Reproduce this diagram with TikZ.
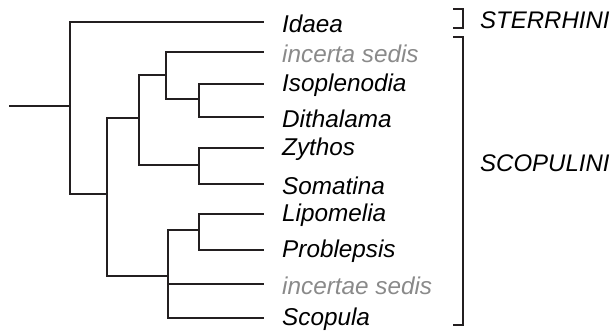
\documentclass[tikz,border=0pt]{standalone}
\usepackage{fontspec}
\setmainfont{Liberation Sans}
\definecolor{ink}{HTML}{231F20}
\definecolor{dim}{HTML}{8A8A8A}
\begin{document}
\begin{tikzpicture}[x=1pt,y=-1pt,
  branch/.style={draw=ink,line width=2.6pt,line cap=rect},
  brack/.style={draw=ink,line width=2.3pt},
  taxon/.style={anchor=west,inner sep=0pt,font=\fontsize{24.3}{28}\selectfont\itshape,text=black},
  taxdim/.style={taxon,text=dim},
  tribe/.style={anchor=west,inner sep=0pt,font=\fontsize{24}{28}\selectfont\itshape,text=black}]
\useasboundingbox (0,0) rectangle (615,333);
% internal nodes
\coordinate (stem) at (10,106);
\coordinate (root) at (70,106);
\coordinate (nA) at (107,194);
\coordinate (nB) at (139,118);
\coordinate (nC) at (166,75);
\coordinate (nD) at (199,99);
\coordinate (nE) at (199,165);
\coordinate (nF) at (168,276);
\coordinate (nG) at (199,230);
% leaf ends
\coordinate (l1) at (263,22);
\coordinate (l2) at (263,52);
\coordinate (l3) at (263,84);
\coordinate (l4) at (263,117);
\coordinate (l5) at (263,148);
\coordinate (l6) at (263,184);
\coordinate (l7) at (263,214);
\coordinate (l8) at (263,250);
\coordinate (l9) at (263,284);
\coordinate (l10) at (263,318);
% labels
\node[taxon] (t1) at (282,23.5) {Idaea};
\node[taxdim] (t2) at (282,53.5) {incerta sedis};
\node[taxon] (t3) at (282,85.5) {Isoplenodia};
\node[taxon] (t4) at (282,118.5) {Dithalama};
\node[taxon] (t5) at (282,149.5) {Zythos};
\node[taxon] (t6) at (282,185.5) {Somatina};
\node[taxon] (t7) at (282,215.5) {Lipomelia};
\node[taxon] (t8) at (282,251.5) {Problepsis};
\node[taxdim] (t9) at (282,285.5) {incertae sedis};
\node[taxon] (t10) at (282,319.5) {Scopula};
% tree
\draw[branch] (stem) -- (root);
\draw[branch] (root) |- (l1);
\draw[branch] (root) |- (nA);
\draw[branch] (nA) |- (nB);
\draw[branch] (nA) |- (nF);
\draw[branch] (nB) |- (nC);
\draw[branch] (nB) |- (nE);
\draw[branch] (nC) |- (l2);
\draw[branch] (nC) |- (nD);
\draw[branch] (nD) |- (l3);
\draw[branch] (nD) |- (l4);
\draw[branch] (nE) |- (l5);
\draw[branch] (nE) |- (l6);
\draw[branch] (nF) |- (nG);
\draw[branch] (nF) |- (l9);
\draw[branch] (nF) |- (l10);
\draw[branch] (nG) |- (l7);
\draw[branch] (nG) |- (l8);
% brackets
\coordinate (b1t) at (453,9);
\coordinate (b1b) at (453,28);
\coordinate (b2t) at (453,37);
\coordinate (b2b) at (453,325);
\draw[brack] (b1t) -| (463,18.5) |- (b1b);
\draw[brack] (b2t) -| (463,181) |- (b2b);
\node[tribe] (s1) at (480,20) {STERRHINI};
\node[tribe] (s2) at (480,163.5) {SCOPULINI};
\end{tikzpicture}
\end{document}
